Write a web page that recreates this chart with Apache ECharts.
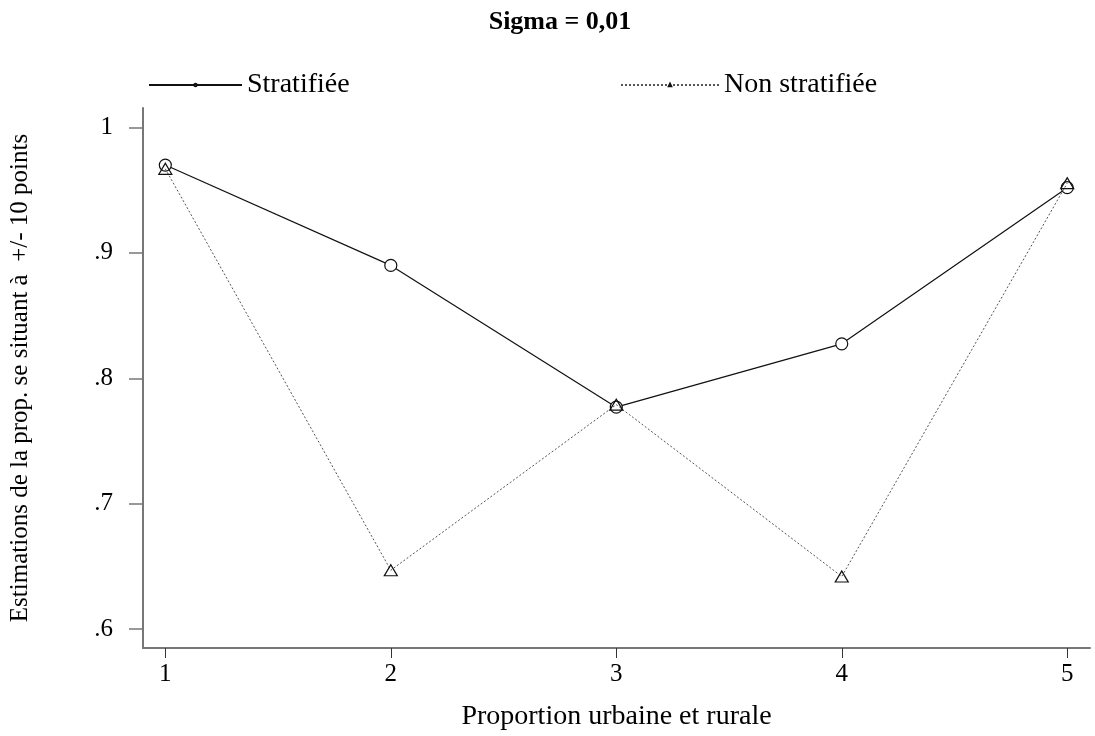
<!DOCTYPE html>
<html>
<head>
<meta charset="utf-8">
<script src="https://cdn.jsdelivr.net/npm/echarts@6/dist/echarts.min.js"></script>
<style>html,body{margin:0;padding:0;background:#fff}#c{width:1095px;height:736px}</style>
</head>
<body>
<div id="c"></div>
<script>
const categories = [1, 2, 3, 4, 5];
const stratifiee = [0.970, 0.890, 0.777, 0.8275, 0.952];
const nonStratifiee = [0.967, 0.647, 0.779, 0.642, 0.9556];
const yTicks = [0.6, 0.7, 0.8, 0.9, 1];
const xTicks = [1, 2, 3, 4, 5];

const FONT = '"Liberation Serif", "DejaVu Serif", serif';
const FS = 25;
const chart = echarts.init(document.getElementById('c'));
const toPairs = arr => categories.map((c, i) => [c, arr[i]]);
const fmtY = v => {
  const s = (Math.round(v * 10) / 10).toString();
  return s.startsWith('0') ? s.slice(1) : s;
};

chart.setOption({
  backgroundColor: '#fff',
  animation: false,
  title: {
    text: 'Sigma = 0,01',
    left: 555, top: 4, textAlign: 'center',
    textStyle: { fontFamily: FONT, fontSize: 26, fontWeight: 'bold', color: '#000' }
  },
  legend: [
    {
      data: ['Stratifiée'], left: 143, top: 66, itemWidth: 93, itemHeight: 3, itemGap: 4,
      textStyle: { fontFamily: FONT, fontSize: 28, color: '#000' }
    },
    {
      data: ['Non stratifiée'], left: 615, top: 66, itemWidth: 98, itemHeight: 3, itemGap: 4,
      textStyle: { fontFamily: FONT, fontSize: 28, color: '#000' }
    }
  ],
  grid: { left: 142, right: 5, top: 108, bottom: 87, containLabel: false },
  xAxis: {
    type: 'value', min: 0.901, max: 5.101,
    name: 'Proportion urbaine et rurale', nameLocation: 'middle', nameGap: 55,
    nameTextStyle: { fontFamily: FONT, fontSize: 28, color: '#000' },
    axisLine: { show: true, onZero: false, lineStyle: { color: '#777', width: 2 } },
    axisTick: { show: true, length: 10, customValues: xTicks, lineStyle: { color: '#333', width: 1 } },
    axisLabel: { customValues: xTicks, margin: 14, fontFamily: FONT, fontSize: FS, color: '#000' },
    splitLine: { show: false }
  },
  yAxis: {
    type: 'value', min: 0.585, max: 1.0155,
    name: 'Estimations de la prop. se situant à  +/- 10 points', nameLocation: 'middle', nameGap: 110,
    nameTextStyle: { fontFamily: FONT, fontSize: FS, color: '#000' },
    axisLine: { show: true, onZero: false, lineStyle: { color: '#777', width: 2 } },
    axisTick: { show: true, length: 14, customValues: yTicks, lineStyle: { color: '#777', width: 1.5 } },
    axisLabel: { customValues: yTicks, margin: 30, formatter: fmtY, fontFamily: FONT, fontSize: FS, color: '#000' },
    splitLine: { show: false }
  },
  series: [
    {
      name: 'Stratifiée', type: 'line', data: toPairs(stratifiee),
      symbol: 'circle', symbolSize: 12, legendIcon: 'circle',
      lineStyle: { color: '#111', width: 1.2, type: 'solid' },
      itemStyle: { color: '#fff', borderColor: '#111', borderWidth: 1.2 },
      z: 3
    },
    {
      name: 'Non stratifiée', type: 'line', data: toPairs(nonStratifiee),
      symbol: 'triangle', symbolSize: [13, 11], legendIcon: 'circle',
      lineStyle: { color: '#555', width: 1, type: [2, 2] },
      itemStyle: { color: 'rgba(255,255,255,0)', borderColor: '#111', borderWidth: 1.2 },
      z: 4
    }
  ]
});
</script>
</body>
</html>
